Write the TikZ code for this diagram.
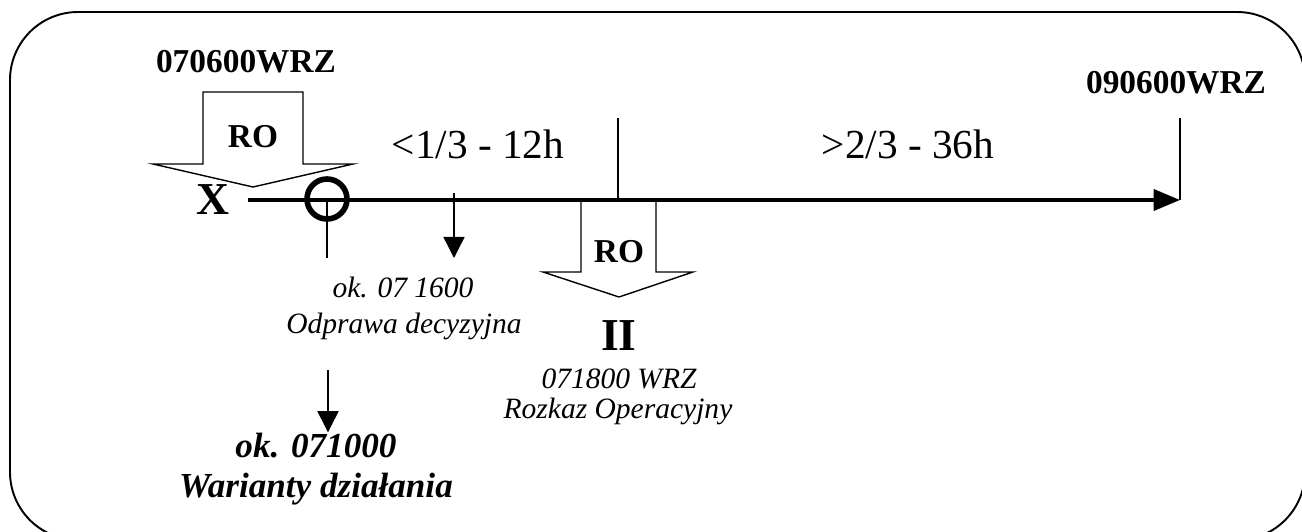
\documentclass[tikz,border=0pt]{standalone}
\usepackage{fontspec}
\setmainfont{Liberation Serif}
\usetikzlibrary{positioning,arrows.meta}

\begin{document}
\begin{tikzpicture}[
			x=0.02cm, y=-0.02cm,
			frame/.style={line width=1.1pt, rounded corners=1.36cm},
			stamp/.style={font=\fontsize{19}{22}\selectfont\bfseries, inner sep=0pt},
			big/.style={font=\fontsize{26}{30}\selectfont\bfseries, inner sep=0pt},
			span/.style={font=\fontsize{23.5}{27}\selectfont, inner sep=0pt, anchor=base},
			note/.style={font=\fontsize{16.8}{20}\selectfont\itshape, inner sep=0pt, anchor=base},
			bignote/.style={font=\fontsize{20}{24}\selectfont\bfseries\itshape, inner sep=0pt, anchor=base},
			thinline/.style={line width=0.8pt},
			axis/.style={line width=2pt, -{Triangle[length=15pt, width=12pt]}},
			arrow/.style={line width=0.8pt, -{Triangle[length=12pt, width=12pt]}},
			roarrow/.style={line width=0.8pt, line join=miter}
			]
	\useasboundingbox (0,0) rectangle (1302,531);
	\clip (0,0) rectangle (1302,531);
	
	%% ramka
	\draw[frame] (10,12) rectangle (1305,540);
	
	%% os czasu
	\coordinate (t0) at (248,200);
	\coordinate (t1) at (1180,200);
	\coordinate (tmid) at (618,200);
	\draw[axis] (t0) -- (t1);
	
	%% poczatek: RO z lewej
	\node[stamp, anchor=base] (start) at (246,72) {070600WRZ};
	\draw[roarrow] (203,92) -- (303,92) -- (303,164) -- (353,164) -- (253,187) -- (153,164) -- (203,164) -- cycle;
	\node[stamp] (ro1) at (253,137) {RO};
	\node[big] (x) at (213,200) {X};
	
	%% odprawa decyzyjna
	\node[draw, circle, line width=3.2pt, minimum size=0.8cm, inner sep=0pt] (decyzja) at (327,199) {};
	\coordinate (decdol) at (327,258);
	\draw[thinline] (decyzja.center) -- (decdol);
	\coordinate (odpG) at (454,193);
	\coordinate (odpD) at (454,258);
	\draw[arrow] (odpG) -- (odpD);
	\node[note] (ok1600) at (403,297) {ok. 07 1600};
	\node[note] (odprawa) at (404,333) {Odprawa decyzyjna};
	
	%% warianty dzialania
	\coordinate (warG) at (328,370);
	\node[bignote] (ok1000) at (316,457) {ok. 071000};
	\node[bignote] (warianty) at (316,497) {Warianty działania};
	\draw[arrow] (warG) -- (warG |- ok1000.north);
	
	%% podzial 1/3 - 2/3
	\coordinate (tickG) at (618,118);
	\draw[line width=1.6pt] (tickG) -- (tmid);
	\node[span] (tercja1) at (478,158) {<1/3 - 12h};
	\node[span] (tercja2) at (908,158) {>2/3 - 36h};
	
	%% RO II
	\draw[roarrow] (581,200) -- (581,272) -- (543,272) -- (619,297) -- (693,272) -- (656,272) -- (656,200);
	\node[stamp] (ro2) at (619,252) {RO};
	\node[big, anchor=base] (ii) at (619,350) {II};
	\node[note] (ro2czas) at (619,388) {071800 WRZ};
	\node[note] (rozkaz) at (618,418) {Rozkaz Operacyjny};
	
	%% koniec
	\node[stamp, anchor=base] (koniec) at (1176,93) {090600WRZ};
	\coordinate (konG) at (1180,118);
	\draw[thinline] (konG) -- (t1);
	
\end{tikzpicture}
\end{document}
